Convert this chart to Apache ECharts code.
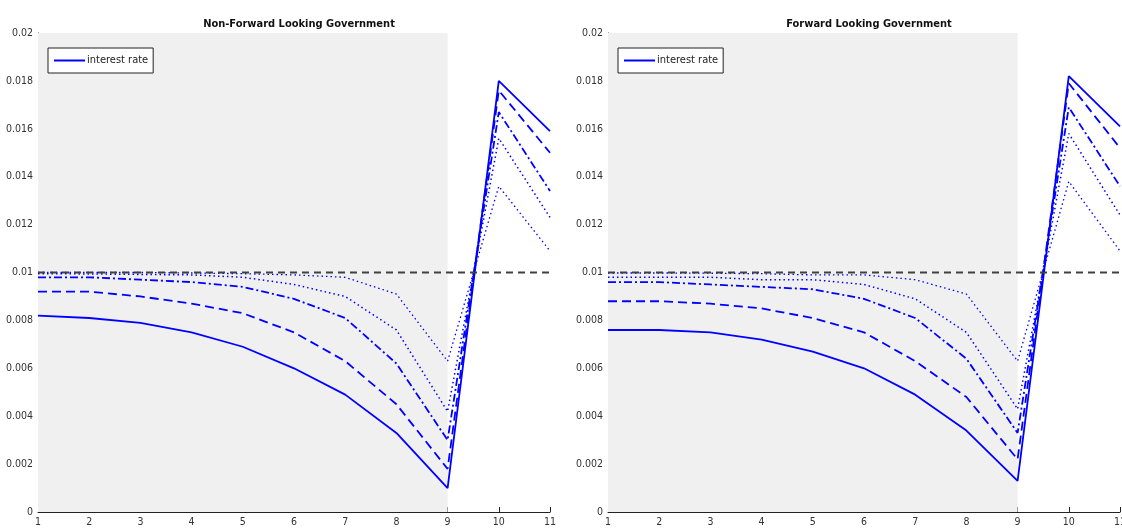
<!DOCTYPE html>
<html>
<head>
<meta charset="utf-8">
<title>Interest rate paths</title>
<script src="https://cdn.jsdelivr.net/npm/echarts@6/dist/echarts.min.js"></script>
<style>
  html, body { margin: 0; padding: 0; background: #ffffff; overflow: hidden; }
  #chart { width: 1122px; height: 532px; }
</style>
</head>
<body>
<div id="chart"></div>
<script>
// Periods on the horizontal axis
const periods = [1, 2, 3, 4, 5, 6, 7, 8, 9, 10, 11];
const yTicks = [0, 0.002, 0.004, 0.006, 0.008, 0.01, 0.012, 0.014, 0.016, 0.018, 0.02];
const steadyRate = 0.01;
const shadeEnd = 9;

// Non-forward looking government: five interest rate paths
const nflSolid   = [0.0082, 0.0081, 0.0079, 0.0075, 0.0069, 0.0060, 0.0049, 0.0033, 0.0010, 0.0180, 0.0159];
const nflDashed  = [0.0092, 0.0092, 0.0090, 0.0087, 0.0083, 0.0075, 0.0063, 0.0045, 0.0018, 0.0176, 0.0150];
const nflDashDot = [0.0098, 0.0098, 0.0097, 0.0096, 0.0094, 0.0089, 0.0081, 0.0062, 0.0030, 0.0167, 0.0134];
const nflDotA    = [0.00995, 0.00994, 0.00992, 0.0099, 0.0098, 0.0095, 0.0090, 0.0076, 0.0042, 0.0156, 0.0123];
const nflDotB    = [0.0100, 0.0100, 0.0100, 0.00998, 0.00995, 0.0099, 0.0098, 0.0091, 0.0063, 0.0136, 0.0109];

// Forward looking government: five interest rate paths
const flSolid    = [0.0076, 0.0076, 0.0075, 0.0072, 0.0067, 0.0060, 0.0049, 0.0034, 0.0013, 0.0182, 0.0161];
const flDashed   = [0.0088, 0.0088, 0.0087, 0.0085, 0.0081, 0.0075, 0.0063, 0.0048, 0.0022, 0.0179, 0.0152];
const flDashDot  = [0.0096, 0.0096, 0.0095, 0.0094, 0.0093, 0.0089, 0.0081, 0.0064, 0.0033, 0.0169, 0.0136];
const flDotA     = [0.0098, 0.0098, 0.0098, 0.0097, 0.0097, 0.0095, 0.0089, 0.0075, 0.0043, 0.0158, 0.0124];
const flDotB     = [0.00998, 0.00998, 0.00997, 0.00995, 0.0099, 0.0099, 0.0097, 0.0091, 0.0063, 0.0138, 0.0109];

const panelTitles = ['Non-Forward Looking Government', 'Forward Looking Government'];
const legendLabel = 'interest rate';

const FONT = '"Liberation Sans Narrow", "DejaVu Sans Condensed", "Liberation Sans", sans-serif';
const BLUE = '#0000ff';
const styles = [
  { type: 'solid', width: 1.8 },
  { type: [9, 5], width: 1.8 },
  { type: [8, 3, 2, 3], width: 1.8 },
  { type: [1.5, 3], width: 1.5 },
  { type: [1.5, 3], width: 1.3 }
];

const panels = [
  { left: 38, paths: [nflSolid, nflDashed, nflDashDot, nflDotA, nflDotB] },
  { left: 608, paths: [flSolid, flDashed, flDashDot, flDotA, flDotB] }
];

const toPairs = arr => periods.map((p, i) => [p, arr[i]]);

const grids = [], xAxes = [], yAxes = [], titles = [], legends = [], series = [];

panels.forEach((panel, k) => {
  grids.push({ left: panel.left, top: 33, width: 512, height: 479, containLabel: false, outerBoundsMode: 'none' });
  titles.push({
    text: panelTitles[k],
    left: panel.left + 256, top: 14, textAlign: 'center',
    textStyle: { fontFamily: FONT, fontSize: 11, fontWeight: 'bold', color: '#111' }
  });
  xAxes.push({
    type: 'value', gridIndex: k, min: 1, max: 11, interval: 1,
    axisLine: { show: true, onZero: false, lineStyle: { color: '#222', width: 1 } },
    axisTick: { show: true, inside: true, length: 5, lineStyle: { color: '#222' } },
    axisLabel: { fontFamily: FONT, fontSize: 10.5, color: '#333', margin: 5 },
    splitLine: { show: false }
  });
  yAxes.push({
    type: 'value', gridIndex: k, min: yTicks[0], max: yTicks[yTicks.length - 1], interval: 0.002,
    axisLine: { show: true, onZero: false, lineStyle: { color: '#222', width: 1 } },
    axisTick: { show: true, inside: true, length: 5, lineStyle: { color: '#222' } },
    axisLabel: { fontFamily: FONT, fontSize: 10.5, color: '#333', margin: 5,
                 formatter: v => String(+v.toFixed(3)) },
    splitLine: { show: false }
  });
  legends.push({
    data: [{ name: legendLabel, icon: 'rect' }],
    left: panel.left + 10, top: 48,
    orient: 'vertical',
    itemWidth: 31, itemHeight: 2,
    padding: [7, 5, 7, 6],
    borderColor: '#222', borderWidth: 1, borderRadius: 0,
    backgroundColor: '#ffffff',
    textStyle: { fontFamily: FONT, fontSize: 11, color: '#222', padding: [0, 0, 0, -3] },
    selectedMode: false
  });

  // shaded window up to period 9
  series.push({
    type: 'line', xAxisIndex: k, yAxisIndex: k, data: [], z: 1, silent: true,
    markArea: {
      silent: true,
      itemStyle: { color: '#f0f0f0' },
      data: [[{ xAxis: periods[0], yAxis: yTicks[0] }, { xAxis: shadeEnd, yAxis: yTicks[yTicks.length - 1] }]]
    }
  });

  panel.paths.forEach((path, j) => {
    series.push({
      name: j === 0 ? legendLabel : 'path ' + (j + 1),
      type: 'line', xAxisIndex: k, yAxisIndex: k, z: 2,
      data: toPairs(path),
      symbol: 'none', smooth: false, animation: false,
      lineStyle: { color: BLUE, width: styles[j].width, type: styles[j].type },
      itemStyle: { color: BLUE }
    });
  });

  // steady-state reference level
  series.push({
    type: 'line', xAxisIndex: k, yAxisIndex: k, z: 3, silent: true,
    data: [[periods[0], steadyRate], [periods[periods.length - 1], steadyRate]],
    symbol: 'none', animation: false,
    lineStyle: { color: '#404040', width: 2, type: [7, 5] }
  });
});

const chart = echarts.init(document.getElementById('chart'), null, { renderer: 'canvas' });
chart.setOption({
  animation: false,
  backgroundColor: '#ffffff',
  title: titles,
  grid: grids,
  xAxis: xAxes,
  yAxis: yAxes,
  legend: legends,
  series: series
});
</script>
</body>
</html>
